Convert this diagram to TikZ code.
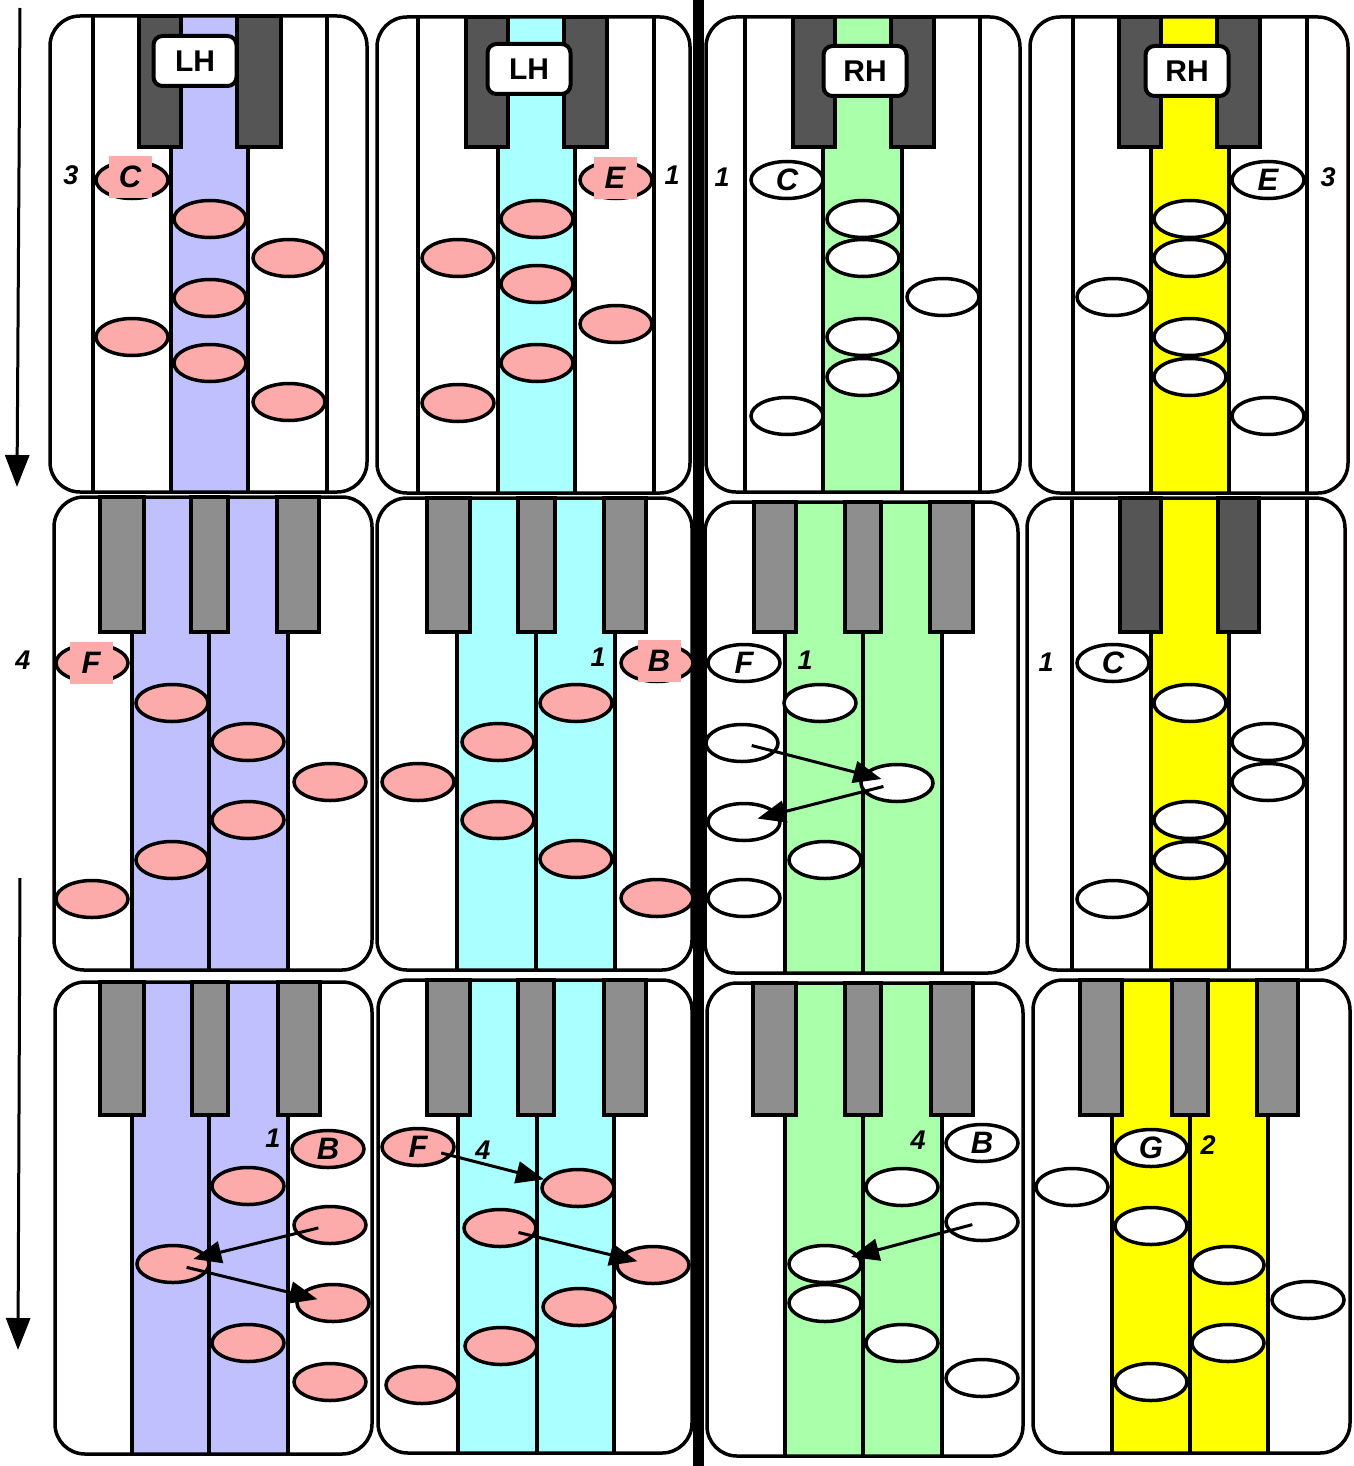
\documentclass[tikz,border=0pt]{standalone}
\usepackage{fontspec}
\setmainfont{Liberation Sans}
\usetikzlibrary{shapes.geometric,arrows.meta}
\definecolor{notepink}{RGB}{252,170,170}
\definecolor{stpurple}{RGB}{192,192,255}
\definecolor{stcyan}{RGB}{170,255,255}
\definecolor{stgreen}{RGB}{170,255,170}
\definecolor{styellow}{RGB}{255,255,0}
\definecolor{keydark}{RGB}{85,85,85}
\definecolor{keygray}{RGB}{142,142,142}
\newcommand\notefont{\fontsize{31}{31}\selectfont\bfseries\itshape}
\newcommand\fingerfont{\fontsize{27}{27}\selectfont\bfseries\itshape}
\newcommand\handfont{\fontsize{30}{30}\selectfont\bfseries}
\tikzset{
  panel/.style={draw=black, line width=3.5pt, rounded corners=30pt},
  kline/.style={draw=black, line width=4pt},
  bkey/.style={draw=black, line width=4pt, fill=keydark},
  gkey/.style={draw=black, line width=4pt, fill=keygray},
  pnote/.style={ellipse, draw=black, line width=3.5pt, fill=notepink, minimum width=72pt, minimum height=37pt, inner sep=0pt, font=\notefont},
  wnote/.style={ellipse, draw=black, line width=3.5pt, fill=white, minimum width=72pt, minimum height=37pt, inner sep=0pt, font=\notefont},
  lbox/.style={fill=notepink, minimum width=43pt, minimum height=42pt, inner sep=0pt, font=\notefont},
  hand/.style={draw=black, line width=4pt, fill=white, rounded corners=9pt, minimum width=83pt, minimum height=50pt, inner sep=0pt, font=\handfont},
  finger/.style={font=\fingerfont, inner sep=0pt},
  jump/.style={-{Triangle[length=28pt,width=22pt]}, line width=3pt},
  timeline/.style={-{Triangle[length=32pt,width=24pt]}, line width=3pt},
}
\begin{document}
\begin{tikzpicture}[x=1pt,y=-1pt]
\useasboundingbox (0,0) rectangle (1353,1466);
\fill[white] (0,0) rectangle (1353,1466);

% ---------- Row 1 ----------
% Panel 1
\fill[stpurple] (171,16) rectangle (248,492);
\foreach \x in {93,171,248,327} \draw[kline] (\x,16) -- (\x,492);
\draw[bkey] (139,16) rectangle (181,147);
\draw[bkey] (237,16) rectangle (281,147);
\draw[panel] (50,16) rectangle (367,492);
\node[hand] (h1) at (195,61) {LH};
\node[pnote] (a1) at (132,180) {};
\node[pnote] (a2) at (210,219) {};
\node[pnote] (a3) at (289,258) {};
\node[pnote] (a4) at (210,298) {};
\node[pnote] (a5) at (132,337) {};
\node[pnote] (a6) at (210,363) {};
\node[pnote] (a7) at (289,402) {};
\node[lbox] (a1l) at (130,177) {C};
\node[finger] (a1f) at (71,175) {3};

% Panel 2
\fill[stcyan] (498,17) rectangle (575,493);
\foreach \x in {418,498,575,654} \draw[kline] (\x,17) -- (\x,493);
\draw[bkey] (466,17) rectangle (508,147);
\draw[bkey] (564,17) rectangle (607,147);
\draw[panel] (377,17) rectangle (690,493);
\node[hand] (h2) at (529,69) {LH};
\node[pnote] (b1) at (616,180) {};
\node[pnote] (b2) at (537,219) {};
\node[pnote] (b3) at (458,258) {};
\node[pnote] (b4) at (537,284) {};
\node[pnote] (b5) at (616,324) {};
\node[pnote] (b6) at (537,363) {};
\node[pnote] (b7) at (458,403) {};
\node[lbox] (b1l) at (615,178) {E};
\node[finger] (b1f) at (672,175) {1};

% Panel 3
\fill[stgreen] (823,17) rectangle (902,492);
\foreach \x in {745,823,902,980} \draw[kline] (\x,17) -- (\x,492);
\draw[bkey] (793,17) rectangle (835,147);
\draw[bkey] (891,17) rectangle (934,147);
\draw[panel] (706,17) rectangle (1020,492);
\node[hand] (h3) at (865,71) {RH};
\node[wnote] (c1) at (787,180) {C};
\node[wnote] (c2) at (863,219) {};
\node[wnote] (c3) at (863,258) {};
\node[wnote] (c4) at (943,297) {};
\node[wnote] (c5) at (863,337) {};
\node[wnote] (c6) at (863,377) {};
\node[wnote] (c7) at (787,416) {};
\node[finger] (c1f) at (722,177) {1};

% Panel 4
\fill[styellow] (1151,17) rectangle (1229,493);
\foreach \x in {1073,1151,1229,1307} \draw[kline] (\x,17) -- (\x,493);
\draw[bkey] (1119,17) rectangle (1161,147);
\draw[bkey] (1217,17) rectangle (1260,147);
\draw[panel] (1030,17) rectangle (1348,493);
\node[hand] (h4) at (1187,71) {RH};
\node[wnote] (d1) at (1268,180) {E};
\node[wnote] (d2) at (1190,219) {};
\node[wnote] (d3) at (1190,258) {};
\node[wnote] (d4) at (1113,297) {};
\node[wnote] (d5) at (1190,337) {};
\node[wnote] (d6) at (1190,377) {};
\node[wnote] (d7) at (1268,416) {};
\node[finger] (d1f) at (1328,177) {3};

% ---------- Row 2 ----------
% Panel 5
\fill[stpurple] (132,497) rectangle (288,970);
\foreach \x in {132,209,288} \draw[kline] (\x,497) -- (\x,970);
\draw[gkey] (100,497) rectangle (144,632);
\draw[gkey] (191,497) rectangle (228,632);
\draw[gkey] (277,497) rectangle (319,632);
\draw[panel] (54,497) rectangle (372,970);
\node[pnote] (e1) at (92,663) {};
\node[pnote] (e2) at (172,703) {};
\node[pnote] (e3) at (248,742) {};
\node[pnote] (e4) at (330,782) {};
\node[pnote] (e5) at (248,820) {};
\node[pnote] (e6) at (172,860) {};
\node[pnote] (e7) at (92,899) {};
\node[lbox] (e1l) at (91,663) {F};
\node[finger] (e1f) at (23,660) {4};

% Panel 6
\fill[stcyan] (457,498) rectangle (615,970);
\foreach \x in {457,536,615} \draw[kline] (\x,498) -- (\x,970);
\draw[gkey] (427,498) rectangle (470,632);
\draw[gkey] (518,498) rectangle (555,632);
\draw[gkey] (604,498) rectangle (646,632);
\draw[panel] (377,498) rectangle (692,970);
\node[pnote] (f1) at (657,663) {};
\node[pnote] (f2) at (576,703) {};
\node[pnote] (f3) at (498,742) {};
\node[pnote] (f4) at (418,782) {};
\node[pnote] (f5) at (498,820) {};
\node[pnote] (f6) at (576,859) {};
\node[pnote] (f7) at (657,898) {};
\node[lbox] (f1l) at (659,661) {B};
\node[finger] (f1f) at (598,657) {1};

% Panel 7
\fill[stgreen] (785,502) rectangle (942,973);
\foreach \x in {785,863,942} \draw[kline] (\x,502) -- (\x,973);
\draw[gkey] (754,502) rectangle (796,632);
\draw[gkey] (845,502) rectangle (881,632);
\draw[gkey] (930,502) rectangle (973,632);
\draw[panel] (705,502) rectangle (1018,973);
\node[wnote] (g1) at (744,663) {F};
\node[wnote] (g2) at (820,703) {};
\node[wnote] (g3) at (742,743) {};
\node[wnote] (g4) at (897,783) {};
\node[wnote] (g5) at (744,822) {};
\node[wnote] (g6) at (825,860) {};
\node[wnote] (g7) at (744,898) {};
\node[finger] (g1f) at (805,660) {1};
\draw[jump, shorten <=10pt, shorten >=16pt] (g3.center) -- (g4.center);
\draw[jump, shorten <=14pt, shorten >=14pt] (g4.center) -- (g5.center);

% Panel 8
\fill[styellow] (1151,498) rectangle (1229,970);
\foreach \x in {1072,1151,1229,1307} \draw[kline] (\x,498) -- (\x,970);
\draw[bkey] (1120,498) rectangle (1161,632);
\draw[bkey] (1218,498) rectangle (1259,632);
\draw[panel] (1027,498) rectangle (1345,970);
\node[wnote] (h1n) at (1113,663) {C};
\node[wnote] (h2n) at (1190,703) {};
\node[wnote] (h3n) at (1268,742) {};
\node[wnote] (h4n) at (1268,782) {};
\node[wnote] (h5n) at (1190,820) {};
\node[wnote] (h6n) at (1190,860) {};
\node[wnote] (h7n) at (1113,899) {};
\node[finger] (h1f) at (1046,662) {1};

% ---------- Row 3 ----------
% Panel 9
\fill[stpurple] (132,982) rectangle (288,1454);
\foreach \x in {132,209,288} \draw[kline] (\x,982) -- (\x,1454);
\draw[gkey] (100,982) rectangle (144,1115);
\draw[gkey] (192,982) rectangle (228,1115);
\draw[gkey] (278,982) rectangle (320,1115);
\draw[panel] (55,982) rectangle (372,1454);
\node[pnote] (i1) at (328,1149) {B};
\node[pnote] (i2) at (248,1186) {};
\node[pnote] (i3) at (330,1225) {};
\node[pnote] (i4) at (173,1264) {};
\node[pnote] (i5) at (333,1303) {};
\node[pnote] (i6) at (248,1343) {};
\node[pnote] (i7) at (330,1382) {};
\node[finger] (i1f) at (273,1138) {1};
\draw[jump, shorten <=12pt, shorten >=21pt] (i3.center) -- (i4.center);
\draw[jump, shorten <=14pt, shorten >=16pt] (i4.center) -- (i5.center);

% Panel 10
\fill[stcyan] (458,980) rectangle (614,1453);
\foreach \x in {458,537,614} \draw[kline] (\x,980) -- (\x,1453);
\draw[gkey] (427,980) rectangle (470,1115);
\draw[gkey] (518,980) rectangle (554,1115);
\draw[gkey] (604,980) rectangle (646,1115);
\draw[panel] (378,980) rectangle (692,1453);
\node[pnote] (j1) at (418,1147) {F};
\node[pnote] (j2) at (578,1188) {};
\node[pnote] (j3) at (500,1228) {};
\node[pnote] (j4) at (653,1265) {};
\node[pnote] (j5) at (579,1307) {};
\node[pnote] (j6) at (501,1346) {};
\node[pnote] (j7) at (422,1385) {};
\node[finger] (j1f) at (483,1150) {4};
\draw[jump, shorten <=24pt, shorten >=35pt] (j1.center) -- (j2.center);
\draw[jump, shorten <=19pt, shorten >=16pt] (j3.center) -- (j4.center);

% Panel 11
\fill[stgreen] (785,983) rectangle (942,1456);
\foreach \x in {785,863,942} \draw[kline] (\x,983) -- (\x,1456);
\draw[gkey] (753,983) rectangle (796,1115);
\draw[gkey] (845,983) rectangle (881,1115);
\draw[gkey] (931,983) rectangle (973,1115);
\draw[panel] (707,983) rectangle (1023,1456);
\node[wnote] (k1) at (982,1143) {B};
\node[wnote] (k2) at (902,1187) {};
\node[wnote] (k3) at (982,1222) {};
\node[wnote] (k4) at (825,1264) {};
\node[wnote] (k5) at (825,1303) {};
\node[wnote] (k6) at (902,1343) {};
\node[wnote] (k7) at (982,1378) {};
\node[finger] (k1f) at (918,1140) {4};
\draw[jump, shorten <=10pt, shorten >=27pt] (k3.center) -- (k4.center);

% Panel 12
\fill[styellow] (1112,980) rectangle (1268,1453);
\foreach \x in {1112,1190,1268} \draw[kline] (\x,980) -- (\x,1453);
\draw[gkey] (1080,980) rectangle (1122,1115);
\draw[gkey] (1172,980) rectangle (1208,1115);
\draw[gkey] (1257,980) rectangle (1298,1115);
\draw[panel] (1033,980) rectangle (1350,1453);
\node[wnote] (l1) at (1151,1148) {G};
\node[wnote] (l2) at (1072,1187) {};
\node[wnote] (l3) at (1151,1226) {};
\node[wnote] (l4) at (1228,1265) {};
\node[wnote] (l5) at (1308,1300) {};
\node[wnote] (l6) at (1228,1343) {};
\node[wnote] (l7) at (1151,1382) {};
\node[finger] (l1f) at (1208,1145) {2};

% ---------- divider and time arrows ----------
\fill[black] (693,0) rectangle (704,1466);
\coordinate (t1s) at (20,8);
\coordinate (t1e) at (17,487);
\draw[timeline] (t1s) -- (t1e);
\coordinate (t2s) at (20,878);
\coordinate (t2e) at (18,1350);
\draw[timeline] (t2s) -- (t2e);
\end{tikzpicture}
\end{document}
